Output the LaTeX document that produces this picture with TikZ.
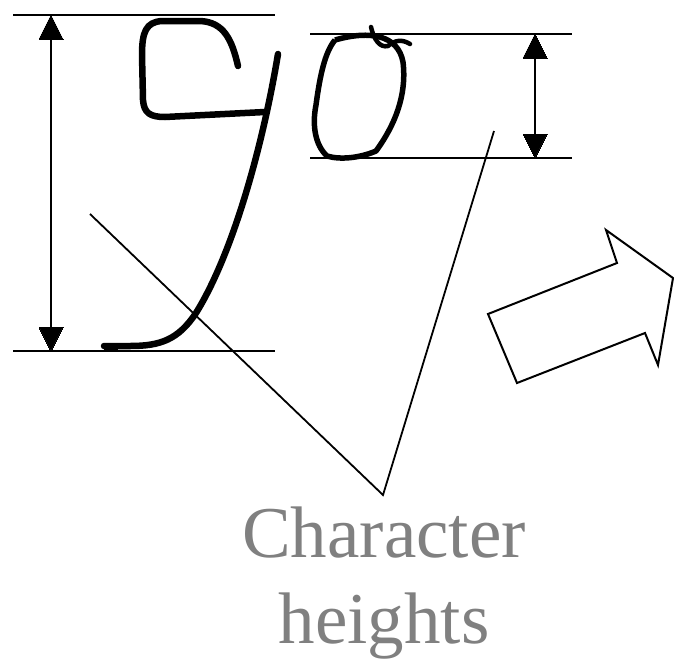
\documentclass[tikz,border=0pt]{standalone}
\usepackage{fontspec}
\setmainfont{Liberation Serif}
\begin{document}
\begin{tikzpicture}[x=1pt,y=-1pt]%
% coordinates in pixels of the sketch, y downwards
\ifx\sklw\undefined\newdimen\sklw\fi
\global\def\skdraw{\draw[line width=\sklw]}
\global\def\skpen{\draw[line width=6.5pt,line cap=round,line join=round]}
\global\def\skstop{;}
\useasboundingbox (0,0) rectangle (674,659);
\sklw=1.8pt
% guide lines of the 9
\skdraw (13,15)
 --(275,15)\skstop
\skdraw (13,351)
 --(275,351)\skstop
% guide lines of the 0
\skdraw (310,34)
 --(572,34)\skstop
\skdraw (310,158)
 --(572,158)\skstop
% height of the 9
\skdraw (51,36)
 --(51,330)\skstop
\filldraw[line width=0bp](39,39)
 --(51,15)
 --(63,39) --cycle\skstop
\filldraw[line width=0bp](39,327)
 --(51,351)
 --(63,327) --cycle\skstop
% height of the 0
\skdraw (535,55)
 --(535,137)\skstop
\filldraw[line width=0bp](523,58)
 --(535,34)
 --(547,58) --cycle\skstop
\filldraw[line width=0bp](523,134)
 --(535,158)
 --(547,134) --cycle\skstop
% the handwritten 9
\skpen (238,66)
 ..controls (232,40) and (224,22)
 ..(200,21)
 --(162,21)
 ..controls (146,22) and (142,32)
 ..(142,55)
 --(143,100)
 ..controls (144,113) and (150,117)
 ..(165,117)
 --(265,112)\skstop
\skpen (278,54)
 ..controls (262,150) and (232,255)
 ..(196,313)
 ..controls (178,340) and (160,346)
 ..(130,346)
 --(104,346)\skstop
\draw[line width=7pt] (104,346)
 --(118,346)\skstop
% the handwritten 0
\draw[line width=5.5pt,line join=round] (335,40)
 ..controls (370,30) and (398,35)
 ..(403,62)
 ..controls (407,95) and (395,125)
 ..(376,151)
 ..controls (360,158) and (340,160)
 ..(327,156)
 ..controls (315,145) and (312,125)
 ..(316,105)
 ..controls (320,75) and (325,52)
 ..(335,40)\skstop
\draw[line width=4.5pt,line cap=round] (371,27)
 ..controls (374,40) and (380,48)
 ..(388,46)
 ..controls (395,40) and (402,39)
 ..(410,44)\skstop
% pointer to the label
\coordinate (pa) at (90,214);
\coordinate (pb) at (383,495);
\coordinate (pc) at (494,131);
\skdraw (pa)
 --(pb)
 --(pc)\skstop
% block arrow
\sklw=2pt
\skdraw[line join=miter] (488,314)
 --(617,263)
 --(606,230)
 --(673,278)
 --(658,365)
 --(645,333)
 --(517,383) --cycle\skstop
% label
\node[text=black!50,font=\fontsize{73}{86}\selectfont,align=center,anchor=base]
 (label) at (384,643) {Character\\heights};
\end{tikzpicture}
\end{document}
